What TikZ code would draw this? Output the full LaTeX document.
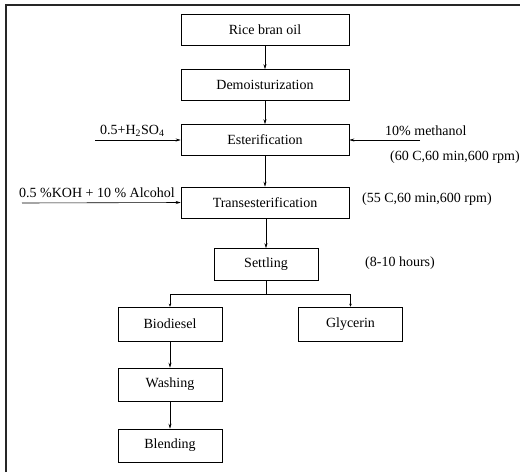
\documentclass[tikz,border=0pt]{standalone}
\usepackage{fontspec}
\setmainfont{Liberation Serif}
\usetikzlibrary{arrows.meta}
\begin{document}
\begin{tikzpicture}[x=1pt,y=-1pt,
  box/.style={draw, line width=0.6pt, minimum width=168pt, minimum height=31pt, inner sep=0pt, font=\fontsize{14}{16}\selectfont},
  sbox/.style={box, minimum width=104pt, minimum height=33pt},
  lbl/.style={inner sep=0pt, font=\fontsize{14}{16}\selectfont},
  conn/.style={line width=0.6pt, -{Stealth[length=5pt,width=3pt]}},
  tconn/.style={line width=0.6pt, -{Stealth[length=3pt,width=2.5pt]}},
  frame/.style={line width=2pt, black!85}]
\useasboundingbox (0,0) rectangle (520,472);
\draw[frame] (6,472) -- (6,5) -- (520,5);
\node[box] (rice) at (265,29.5) {Rice bran oil};
\node[box] (demo) at (265,85) {Demoisturization};
\node[box] (ester) at (265,140) {Esterification};
\node[box] (trans) at (265,202.5) {Transesterification};
\node[sbox, minimum height=32pt] (settle) at (266,264.5) {Settling};
\node[sbox, minimum height=34pt] (bio) at (170,324) {Biodiesel};
\node[sbox, minimum height=34pt] (gly) at (350.5,324) {Glycerin};
\node[sbox, minimum height=33pt] (wash) at (170,384.5) {Washing};
\node[sbox, minimum height=33pt] (blend) at (170,445.5) {Blending};
\draw[conn] (rice) -- (demo);
\draw[conn] (demo) -- (ester);
\draw[conn] (ester) -- (trans);
\draw[conn] (trans.south -| settle) -- (settle.north);
\coordinate (br) at (266,294);
\draw[line width=0.6pt] (settle.south) -- (br);
\coordinate (brl) at (170,294);
\coordinate (brr) at (350.5,294);
\draw[line width=0.6pt] (brl) -- (brr);
\draw[tconn] (brl) -- (bio.north);
\draw[tconn] (brr) -- (gly.north);
\draw[conn] (bio) -- (wash);
\draw[conn] (wash) -- (blend);
\coordinate (h2in) at (95,140);
\draw[conn] (h2in) -- (ester.west);
\node[lbl, anchor=south west] (h2) at (100,137) {0.5+H\textsubscript{2}SO\textsubscript{4}};
\coordinate (mein) at (420,140);
\draw[conn] (mein) -- (ester.east);
\node[lbl, anchor=south west] (me) at (385,136) {10\% methanol};
\node[lbl, anchor=west] (c1) at (390,157) {(60 C,60 min,600 rpm)};
\coordinate (koin) at (22,203);
\draw[conn] (koin) -- (trans.west);
\node[lbl, anchor=south west] (ko) at (19,198) {0.5 \%KOH + 10 \% Alcohol};
\node[lbl, anchor=west] (c2) at (362,199) {(55 C,60 min,600 rpm)};
\node[lbl, anchor=west] (c3) at (365,263) {(8-10 hours)};
\end{tikzpicture}
\end{document}
